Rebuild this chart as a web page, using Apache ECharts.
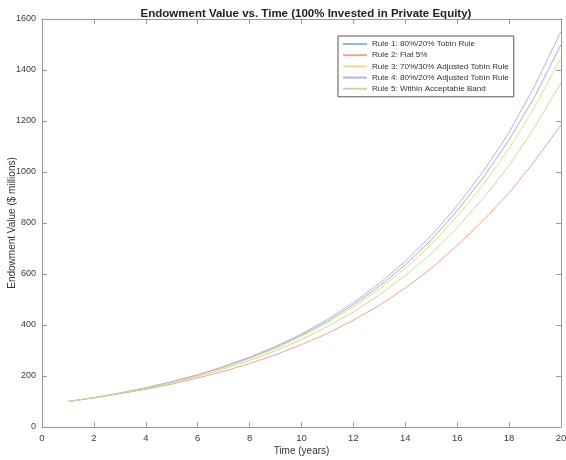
<!DOCTYPE html>
<html>
<head>
<meta charset="utf-8">
<script src="https://cdn.jsdelivr.net/npm/echarts@6/dist/echarts.min.js"></script>
<style>html,body{margin:0;padding:0;background:#fff;}#c{width:566px;height:460px;}</style>
</head>
<body>
<div id="c"></div>
<script>
var years = [1,2,3,4,5,6,7,8,9,10,11,12,13,14,15,16,17,18,19,20];
var seriesNames = [
  'Rule 1: 80%/20% Tobin Rule',
  'Rule 2: Flat 5%',
  'Rule 3: 70%/30% Adjusted Tobin Rule',
  'Rule 4: 80%/20% Adjusted Tobin Rule',
  'Rule 5: Within Acceptable Band'
];
var rule1 = [100,115,133,153,177,204,235,271,312,360,415,479,552,636,734,848,978,1126,1298,1500];
var rule2 = [100,114,130,148,168,192,218,249,283,323,367,419,477,545,622,712,810,918,1045,1185];
var rule3 = [100,115,133,153,176,202,233,268,308,355,408,470,541,622,716,826,950,1092,1258,1447];
var rule4 = [100,115,133,154,178,205,237,274,316,365,422,488,563,650,751,868,1002,1155,1340,1552];
var rule5 = [100,115,132,151,173,198,228,261,299,343,394,451,518,594,681,782,897,1025,1178,1350];
var xTicks = [0,2,4,6,8,10,12,14,16,18,20];
var yTicks = [0,200,400,600,800,1000,1200,1400,1600];

var colors = ['#8cb9df','#eba88d','#f2d98c','#c3aedb','#c6dca0'];
var allValues = [rule1, rule2, rule3, rule4, rule5];

function pairs(v){ return years.map(function(y,i){ return [y, v[i]]; }); }

var axisCol = '#9a9a9a';
var FONT = 'Liberation Sans, Arial, sans-serif';

function xAx(pos, show){
  return {
    type:'value', position:pos, min:xTicks[0], max:xTicks[xTicks.length-1], interval:2,
    axisLine:{show:true, onZero:false, lineStyle:{color:axisCol, width:1}},
    axisTick:{show:true, inside:true, length:5, lineStyle:{color:axisCol}},
    axisLabel:{show:show, margin:6, color:'#3a3a3a', fontSize:9.5, fontFamily:FONT,
      formatter:function(v){ return String(v); }},
    splitLine:{show:false},
    name: show ? 'Time (years)' : '', nameLocation:'middle', nameGap:19, nameMoveOverlap:false,
    nameTextStyle:{color:'#333', fontSize:10, fontFamily:FONT}
  };
}
function yAx(pos, show){
  return {
    type:'value', position:pos, min:yTicks[0], max:yTicks[yTicks.length-1], interval:200,
    axisLine:{show:true, onZero:false, lineStyle:{color:axisCol, width:1}},
    axisTick:{show:true, inside:true, length:5, lineStyle:{color:axisCol}},
    axisLabel:{show:show, margin:6, color:'#3a3a3a', fontSize:9, fontFamily:FONT,
      formatter:function(v){ return String(v); }},
    splitLine:{show:false},
    name: show ? 'Endowment Value ($ millions)' : '', nameLocation:'middle', nameGap:25, nameMoveOverlap:false,
    nameTextStyle:{color:'#333', fontSize:10, fontFamily:FONT}
  };
}

var chart = echarts.init(document.getElementById('c'), null, {renderer:'canvas'});
chart.setOption({
  backgroundColor:'#ffffff',
  animation:false,
  title:{
    text:'Endowment Value vs. Time (100% Invested in Private Equity)',
    left:301, top:3, textAlign:'center',
    textStyle:{fontSize:11.5, fontWeight:'bold', color:'#222', fontFamily:FONT}
  },
  grid:{left:42, right:5, top:19, bottom:33, containLabel:false, outerBoundsMode:'none'},
  xAxis:[xAx('bottom', true), xAx('top', false)],
  yAxis:[yAx('left', true), yAx('right', false)],
  legend:{
    orient:'vertical', left:338, top:36,
    itemWidth:24, itemHeight:8, itemGap:3.2,
    itemStyle:{opacity:0},
    padding:[4,5,4,4],
    borderColor:'#555', borderWidth:1, backgroundColor:'#fff',
    textStyle:{fontSize:8.1, color:'#333', fontFamily:FONT},
    data:seriesNames
  },
  series: allValues.map(function(v,i){
    return {
      name:seriesNames[i], type:'line', xAxisIndex:0, yAxisIndex:0,
      data:pairs(v), symbol:'none', showSymbol:false, smooth:false,
      lineStyle:{color:colors[i], width:1}, itemStyle:{color:colors[i]}
    };
  })
});
</script>
</body>
</html>
